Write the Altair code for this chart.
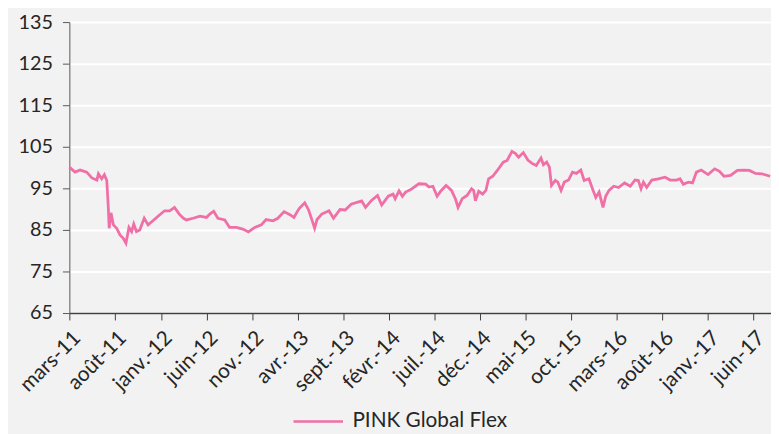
import altair as alt
import pandas as pd

series_name = "PINK Global Flex"

dates = [
    "2011-03-01", "2011-03-20", "2011-04-06", "2011-04-28", "2011-05-15", "2011-06-01",
    "2011-06-06", "2011-06-17", "2011-06-26", "2011-07-04", "2011-07-09", "2011-07-12",
    "2011-07-18", "2011-07-26", "2011-08-06", "2011-08-17", "2011-08-28", "2011-09-06",
    "2011-09-16", "2011-09-25", "2011-10-02", "2011-10-11", "2011-10-22", "2011-11-06",
    "2011-11-19", "2011-12-05", "2011-12-27", "2012-01-13", "2012-01-30", "2012-02-15",
    "2012-03-02", "2012-03-16", "2012-03-26", "2012-04-17", "2012-05-10", "2012-06-01",
    "2012-06-12", "2012-06-25", "2012-07-09", "2012-08-01", "2012-08-17", "2012-09-09",
    "2012-09-30", "2012-10-19", "2012-11-09", "2012-12-01", "2012-12-17", "2013-01-09",
    "2013-01-25", "2013-02-15", "2013-03-08", "2013-03-20", "2013-03-31", "2013-04-07",
    "2013-04-25", "2013-05-08", "2013-05-19", "2013-05-28", "2013-06-05", "2013-06-21",
    "2013-07-15", "2013-07-30", "2013-08-21", "2013-09-07", "2013-09-27", "2013-11-01",
    "2013-11-14", "2013-12-04", "2013-12-24", "2014-01-07", "2014-01-29", "2014-02-14",
    "2014-02-21", "2014-03-06", "2014-03-17", "2014-03-28", "2014-04-14", "2014-05-11",
    "2014-06-03", "2014-06-14", "2014-06-27", "2014-07-11", "2014-07-25", "2014-08-10",
    "2014-08-28", "2014-09-10", "2014-09-19", "2014-10-03", "2014-10-19", "2014-11-03",
    "2014-11-10", "2014-11-16", "2014-11-27", "2014-12-10", "2014-12-21", "2014-12-30",
    "2015-01-13", "2015-01-28", "2015-02-17", "2015-03-02", "2015-03-18", "2015-03-29",
    "2015-04-09", "2015-04-25", "2015-05-10", "2015-05-24", "2015-06-07", "2015-06-23",
    "2015-07-01", "2015-07-12", "2015-07-21", "2015-07-28", "2015-08-10", "2015-08-18",
    "2015-08-29", "2015-09-09", "2015-09-23", "2015-10-06", "2015-10-19", "2015-11-03",
    "2015-11-14", "2015-11-30", "2015-12-14", "2015-12-23", "2016-01-03", "2016-01-16",
    "2016-01-25", "2016-02-05", "2016-02-21", "2016-03-08", "2016-03-28", "2016-04-16",
    "2016-05-02", "2016-05-13", "2016-05-22", "2016-05-30", "2016-06-10", "2016-06-27",
    "2016-07-19", "2016-08-10", "2016-08-27", "2016-09-18", "2016-09-29", "2016-10-10",
    "2016-10-27", "2016-11-10", "2016-11-23", "2016-12-09", "2017-01-01", "2017-01-23",
    "2017-02-08", "2017-02-23", "2017-03-17", "2017-04-09", "2017-05-01", "2017-05-19",
    "2017-06-08", "2017-06-30", "2017-07-27",
]

values = [
    100.1, 98.9, 99.4, 98.9, 97.5, 97.0,
    98.5, 97.3, 98.3, 96.9, 90.5, 85.4,
    89.1, 86.2, 85.4, 83.8, 83.0, 81.8,
    85.6, 84.6, 86.4, 84.6, 85.0, 87.8,
    86.2, 87.2, 88.6, 89.6, 89.6, 90.4,
    88.8, 87.8, 87.4, 87.8, 88.3, 88.0,
    88.8, 89.5, 87.8, 87.4, 85.6, 85.6,
    85.2, 84.5, 85.6, 86.2, 87.5, 87.2,
    87.8, 89.4, 88.6, 88.0, 89.4, 90.2,
    91.5, 89.8, 87.4, 85.4, 87.5, 88.8,
    89.6, 87.8, 89.9, 89.8, 91.2, 92.0,
    90.4, 92.1, 93.3, 91.0, 93.1, 93.6,
    92.5, 94.4, 93.1, 94.1, 94.7, 96.1,
    96.0, 95.3, 95.5, 93.1, 94.5, 95.7,
    94.5, 92.5, 90.4, 92.5, 93.3, 94.9,
    94.5, 92.0, 94.3, 93.6, 94.5, 97.3,
    97.9, 99.3, 101.3, 101.7, 103.9, 103.4,
    102.5, 103.6, 101.8, 101.0, 100.5, 102.3,
    100.7, 101.3, 100.1, 95.7, 96.9, 96.5,
    94.5, 96.5, 97.0, 98.9, 98.6, 99.4,
    96.9, 97.3, 94.5, 92.8, 94.1, 90.4,
    93.1, 94.5, 95.5, 95.2, 96.3, 95.5,
    97.0, 96.9, 94.9, 96.5, 95.2, 97.0,
    97.3, 97.7, 97.0, 97.0, 97.3, 96.0,
    96.5, 96.3, 98.9, 99.4, 98.3, 99.7,
    99.1, 97.9, 98.1, 99.3, 99.4, 99.3,
    98.6, 98.5, 97.9,
]

tick_dates = [
    "2011-03-01", "2011-08-01", "2012-01-01", "2012-06-01", "2012-11-01", "2013-04-01",
    "2013-09-01", "2014-02-01", "2014-07-01", "2014-12-01", "2015-05-01", "2015-10-01",
    "2016-03-01", "2016-08-01", "2017-01-01", "2017-06-01",
]
tick_labels = [
    "mars-11", "août-11", "janv.-12", "juin-12", "nov.-12", "avr.-13",
    "sept.-13", "févr.-14", "juil.-14", "déc.-14", "mai-15", "oct.-15",
    "mars-16", "août-16", "janv.-17", "juin-17",
]
y_ticks = [65, 75, 85, 95, 105, 115, 125, 135]
x_start = "2011-03-01"
x_end = "2017-07-30"

df = pd.DataFrame({"date": dates, "value": values, "series": series_name})


def ms(d):
    return int(pd.Timestamp(d, tz="UTC").value // 10**6)


label_expr = (
    "[" + ",".join("'%s'" % l for l in tick_labels) + "]"
    + "[indexof([" + ",".join("'%s'" % d[:7] for d in tick_dates) + "], utcFormat(datum.value, '%Y-%m'))]"
)

FONT = "Lato"
TEXT = "#262626"
PINK = "#EF6FA6"

chart = (
    alt.Chart(df)
    .mark_line(strokeWidth=2.8)
    .encode(
        x=alt.X(
            "date:T",
            scale=alt.Scale(type="utc", domain=[ms(x_start), ms(x_end)], nice=False),
            axis=alt.Axis(
                values=[ms(d) for d in tick_dates],
                labelExpr=label_expr,
                labelAngle=-45,
                labelAlign="right",
                labelBaseline="top",
                grid=False,
                tickSize=7,
                tickColor="#404040",
                domainColor="#404040",
                domainWidth=1.5,
                labelFontSize=21,
                labelPadding=7,
                labelColor=TEXT,
                labelFont=FONT,
                labelOverlap=False,
                title=None,
            ),
        ),
        y=alt.Y(
            "value:Q",
            scale=alt.Scale(domain=[65, 135], nice=False, zero=False),
            axis=alt.Axis(
                values=y_ticks,
                grid=True,
                gridColor="white",
                gridWidth=2,
                tickSize=7,
                tickColor="#595959",
                domainColor="#595959",
                labelPadding=10,
                labelFontSize=20,
                labelColor=TEXT,
                labelFont=FONT,
                title=None,
            ),
        ),
        color=alt.Color(
            "series:N",
            scale=alt.Scale(range=[PINK]),
            legend=alt.Legend(
                orient="none",
                legendX=225,
                legendY=377,
                title=None,
                direction="horizontal",
                symbolType="stroke",
                symbolSize=2500,
                symbolStrokeWidth=2.5,
                symbolStrokeColor=PINK,
                labelFontSize=21,
                labelFont=FONT,
                labelColor=TEXT,
                labelOffset=8,
            ),
        ),
    )
    .properties(
        width=709,
        height=294,
        background="#F2F2F2",
        padding={"left": 62, "top": 12, "right": 0, "bottom": 120},
        autosize=alt.AutoSizeParams(type="none"),
    )
    .configure_view(stroke=None)
)

chart.save("out.html", embed_options={"renderer": "svg", "actions": False})
